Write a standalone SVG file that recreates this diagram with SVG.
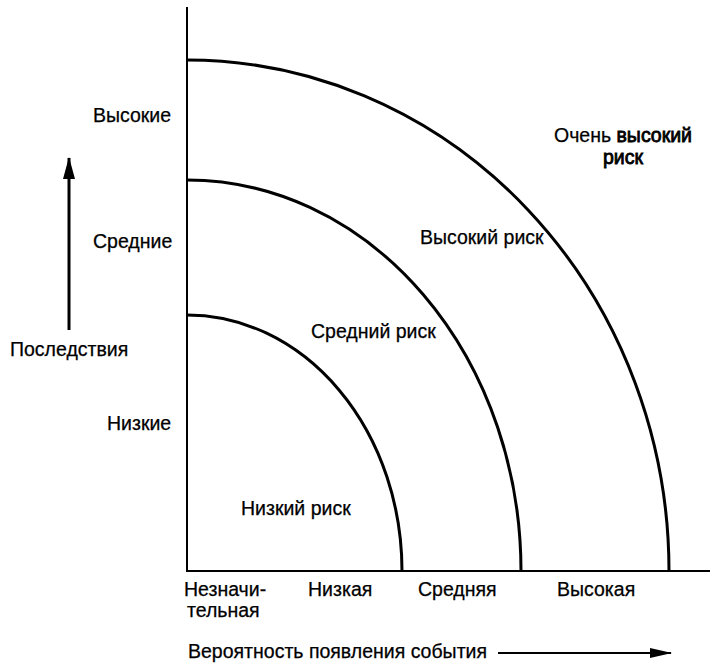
<svg xmlns="http://www.w3.org/2000/svg" width="717" height="664" viewBox="0 0 717 664">
<style>
text{font-family:"Liberation Sans",Arial,sans-serif;font-size:19.5px;fill:#000;stroke:#000;stroke-width:0.25}
.b{stroke-width:0.8}
.ax{stroke:#000;stroke-width:2;fill:none}
.arc{stroke:#000;stroke-width:3;fill:none}
</style>
<defs>
<marker id="ahv" markerWidth="22" markerHeight="12" refX="21" refY="6" orient="auto" markerUnits="userSpaceOnUse"><path d="M0,0 L22,6 L0,12 Z" fill="#000"/></marker>
<marker id="ahh" markerWidth="22" markerHeight="10" refX="21" refY="5" orient="auto" markerUnits="userSpaceOnUse"><path d="M0,0 L22,5 L0,10 Z" fill="#000"/></marker>
</defs>
<rect width="717" height="664" fill="#fff"/>
<g id="connectors">
<path class="ax" d="M187,7 V571 H710"/>
<path class="arc" d="M187,315 A215,256 0 0 1 402,571"/>
<path class="arc" d="M187,180 A334,391 0 0 1 521,571"/>
<path class="arc" d="M187,60 A482,511 0 0 1 669,571"/>
<line x1="69" y1="330" x2="69" y2="158" stroke="#000" stroke-width="3" marker-end="url(#ahv)"/>
<line x1="498" y1="653" x2="671" y2="653" stroke="#000" stroke-width="2" marker-end="url(#ahh)"/>
</g>
<g id="y-labels">
<text x="93" y="121.5">Высокие</text>
<text x="93" y="247.5">Средние</text>
<text x="10" y="355.5">Последствия</text>
<text x="107" y="430">Низкие</text>
</g>
<g id="x-labels">
<text x="184" y="595.5">Незначи-</text>
<text x="187" y="616.5">тельная</text>
<text x="308" y="595.5">Низкая</text>
<text x="418" y="595.5">Средняя</text>
<text x="557" y="595.5">Высокая</text>
<text x="188" y="658">Вероятность появления события</text>
</g>
<g id="zones">
<text x="241" y="515">Низкий риск</text>
<text x="311" y="337.5">Средний риск</text>
<text x="420" y="244">Высокий риск</text>
<text x="623" y="142" text-anchor="middle">Очень <tspan class="b">высокий</tspan></text>
<text x="623" y="163.5" text-anchor="middle" class="b">риск</text>
</g>
</svg>
